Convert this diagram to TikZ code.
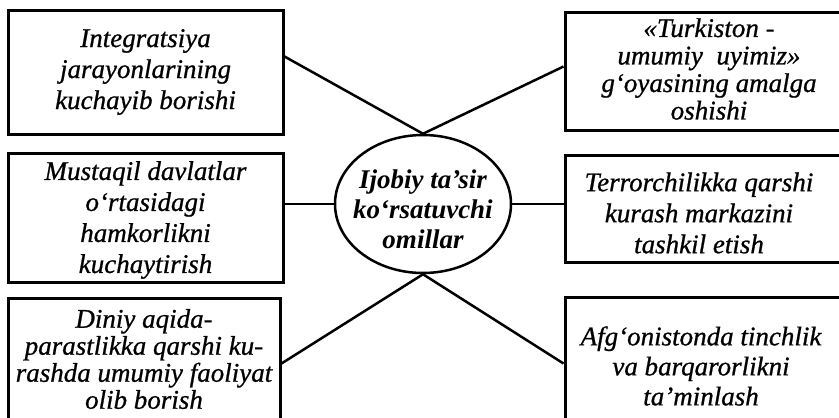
\documentclass[tikz,border=0pt]{standalone}
\usepackage{fontspec}
\setmainfont{Liberation Serif}[ItalicFeatures={FakeBold=0.8}]
\usetikzlibrary{shapes.geometric,calc}
\begin{document}
\begin{tikzpicture}[x=1pt,y=-1pt,
  box/.style={draw, line width=3pt, rectangle, inner sep=0pt},
  txt/.style={font=\itshape\fontsize{27}{#1}\selectfont, align=center, inner sep=0pt},
  txt/.default=29.5,
  ctr/.style={font=\bfseries\itshape\fontsize{27}{30}\selectfont, align=center, inner sep=0pt},
  oval/.style={draw, ellipse, line width=2.5pt, minimum width=176pt, minimum height=138pt, inner sep=0pt},
  link/.style={line width=2.5pt}]
\useasboundingbox (0,0) rectangle (839,418);
\clip (0,0) rectangle (839,418);
% boxes
\node[box, minimum width=275pt, minimum height=124pt] (tl) at (145.5,72) {};
\node[box, minimum width=275pt, minimum height=129pt] (ml) at (145.5,217.5) {};
\node[box, minimum width=272pt, minimum height=142pt] (bl) at (144,369) {};
\node[box, minimum width=305pt, minimum height=118pt] (tr) at (717.5,71) {};
\node[box, minimum width=305pt, minimum height=107pt] (mr) at (717.5,208.5) {};
\node[box, minimum width=305pt, minimum height=143pt] (br) at (717.5,368.5) {};
% texts
\node[txt=31] (tlt) at (145.5,72) {Integratsiya\\jarayonlarining\\kuchayib borishi};
\node[txt=31] (mlt) at (145.5,220) {Mustaqil davlatlar\\o‘rtasidagi\\hamkorlikni\\kuchaytirish};
\node[txt=27] (blt) at (144,359) {Diniy aqida-\\parastlikka qarshi ku-\\rashda umumiy faoliyat\\olib borish};
\node[txt=27.5] (trt) at (709,69) {«Turkiston -\\umumiy\ \ uyimiz»\\g‘oyasining amalga\\oshishi};
\node[txt=31] (mrt) at (699,213) {Terrorchilikka qarshi\\kurash markazini\\tashkil etish};
\node[txt=30] (brt) at (701,366) {Afg‘onistonda tinchlik\\va barqarorlikni\\ta’minlash};
% centre
\node[oval] (c) at (423,204) {};
\node[ctr] (ct) at (423,209) {Ijobiy ta’sir\\ko‘rsatuvchi\\omillar};
% connectors
\draw[link] ([yshift=-48pt]tl.north east) -- (c.north);
\draw[link] (c.north) -- ([yshift=-56pt]tr.north west);
\draw[link] (c.west) -- (c.west -| ml.east);
\draw[link] (c.east) -- (c.east -| mr.west);
\draw[link] (c.south) -- ([yshift=-67pt]bl.north east);
\draw[link] (c.south) -- ([yshift=-68pt]br.north west);
\end{tikzpicture}
\end{document}
